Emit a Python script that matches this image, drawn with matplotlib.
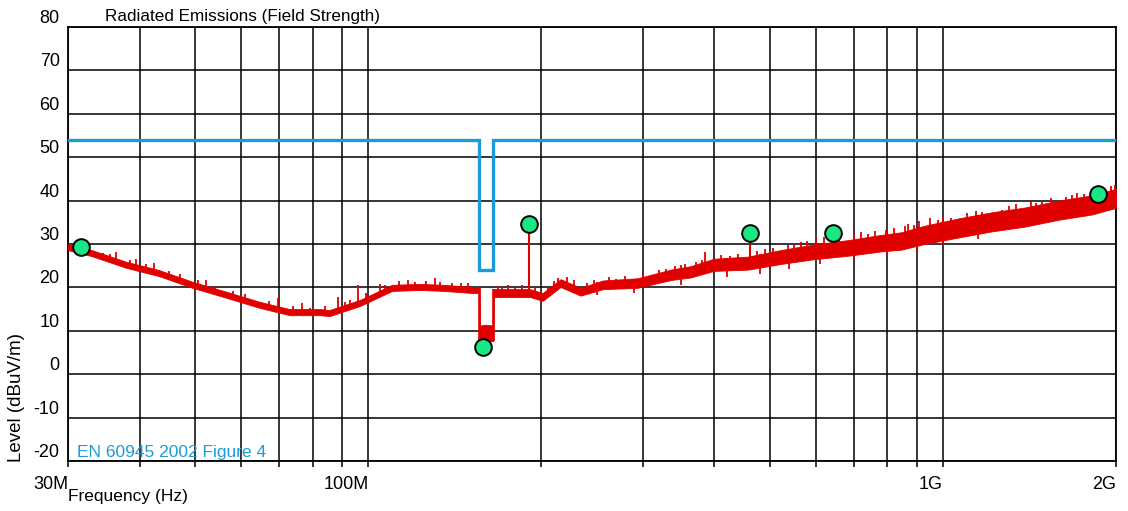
import matplotlib
matplotlib.use("Agg")
import matplotlib.pyplot as plt
import numpy as np
from matplotlib.ticker import FixedLocator, NullFormatter

plt.rcParams['font.family'] = ['Liberation Sans', 'DejaVu Sans']

# ---- data (frequencies in MHz, levels in dBuV/m) ----
trace_freq = [30, 33, 37.9, 43.2, 49.4, 56.6, 64.6, 72.9, 82.3, 85.6, 96.6, 110, 123, 135, 152, 155.9,
              156.1, 160, 164.9, 165.1, 191, 201, 216, 234, 256, 294, 336, 364, 399, 458, 522, 596,
              684, 781, 846, 928, 1064, 1215, 1387, 1591, 1816, 1944, 2000]
trace_lo = [28.6, 27.2, 24.5, 22.6, 19.9, 17.6, 15.3, 13.6, 13.6, 13.4, 15.7, 19.2, 19.4, 19.2, 18.7, 18.7,
            7.6, 7.8, 7.6, 17.8, 17.8, 16.9, 20.1, 18.1, 19.6, 19.9, 21.7, 22.3, 23.8, 24.1, 25.4, 26.5,
            27.3, 28.3, 28.7, 30.0, 31.5, 32.9, 34.0, 35.6, 36.8, 37.9, 38.3]
trace_hi = [30.0, 28.6, 25.9, 24.0, 21.3, 19.0, 16.7, 15.0, 15.0, 14.8, 17.1, 20.6, 20.8, 20.6, 20.1, 20.1,
            11.2, 11.4, 11.2, 19.6, 19.6, 18.7, 21.9, 19.9, 21.6, 22.1, 24.1, 24.9, 26.6, 27.1, 28.6, 29.9,
            30.9, 32.1, 32.7, 34.2, 35.9, 37.3, 38.4, 40.0, 41.2, 42.3, 42.7]

spike_freq = [31, 34.5, 35.5, 36.4, 38.5, 39.4, 41, 42.4, 45, 47, 50.5, 52.2, 54, 58, 61, 67, 69.5, 74,
              76.5, 79, 84, 88.4, 91, 93, 95.8, 99, 104.7, 107, 113, 117, 120.5, 126, 130.6, 133, 140,
              145, 149, 168, 171, 175, 180, 185, 195, 205, 210, 214, 222, 228, 240, 247, 262, 270, 280,
              300, 312, 320, 330, 342, 349.5, 356, 372, 380, 386, 410, 425, 440, 475, 490, 505, 537,
              550, 565, 580, 601, 620, 640, 660, 700, 720, 740, 760, 797, 820, 860, 870, 891, 910, 950,
              980, 1000, 1034, 1100, 1140, 1170, 1265, 1300, 1340, 1420, 1450, 1485, 1540, 1640, 1680,
              1709, 1760, 1900, 1960, 1991]
spike_peak = [30.0, 28.0, 27.6, 28.1, 26.3, 26.5, 25.3, 25.6, 23.8, 23.0, 21.6, 21.7, 20.3, 19.2, 18.4,
              16.8, 17.6, 15.6, 16.4, 15.3, 15.6, 17.8, 16.6, 17.2, 20.5, 18.8, 20.8, 20.6, 21.4, 21.6,
              21.3, 21.5, 22.2, 21.3, 21.0, 21.1, 20.9, 20.3, 20.1, 20.5, 20.2, 20.6, 20.0, 19.8, 21.5,
              22.2, 22.3, 21.6, 21.0, 21.8, 22.3, 22.0, 22.6, 23.0, 22.9, 24.0, 24.3, 25.0, 25.2, 25.3,
              25.9, 26.2, 28.2, 27.4, 27.3, 27.6, 28.3, 28.8, 29.0, 29.8, 30.0, 30.4, 30.8, 31.6, 31.5,
              31.4, 32.0, 32.5, 32.8, 32.4, 33.0, 33.2, 33.8, 34.2, 34.5, 34.4, 35.2, 36.0, 35.6, 36.2,
              36.0, 37.1, 37.6, 37.4, 37.8, 38.8, 39.2, 39.6, 39.4, 39.7, 40.6, 40.8, 41.3, 41.8, 41.6,
              42.8, 43.3, 43.6]

dip_freq = [250, 290, 350, 420, 480, 540, 610, 700, 800, 900, 1000, 1150]
dip_level = [18.3, 18.8, 20.5, 22.3, 23.0, 24.3, 25.3, 26.3, 27.3, 28.5, 29.6, 31.2]

marker_freq = [31.6, 158.3, 190.5, 461, 644, 1860]
marker_level = [29.3, 6.3, 34.6, 32.5, 32.5, 41.5]
stem_base = [29.3, 8.5, 18.7, 26.0, 32.5, 41.5]

limit_freq = [30, 156, 156, 165, 165, 2000]
limit_level = [54, 54, 24, 24, 54, 54]

xtick_vals = [30, 100, 1000, 2000]
xtick_labels = ['30M', '100M', '1G', '2G']
ytick_vals = [-20, -10, 0, 10, 20, 30, 40, 50, 60, 70, 80]

RED = '#E00000'
BLUE = '#1E9BD7'
GREEN = '#18E884'

fig = plt.figure(figsize=(11.28, 5.11), dpi=100)
ax = fig.add_axes([68 / 1128, 50 / 511, (1116 - 68) / 1128, (461 - 27) / 511])
ax.set_xscale('log')
ax.set_xlim(30, 2000)
ax.set_ylim(-20, 80)

# grid
ax.xaxis.set_major_locator(FixedLocator(xtick_vals))
ax.xaxis.set_minor_locator(FixedLocator([40, 50, 60, 70, 80, 90, 200, 300, 400, 500, 600, 700, 800, 900]))
ax.xaxis.set_minor_formatter(NullFormatter())
ax.set_xticklabels(xtick_labels)
ax.set_yticks(ytick_vals)
ax.set_yticklabels([str(v) for v in ytick_vals])
ax.grid(which='both', color='black', linewidth=1.1, zorder=1)
ax.set_axisbelow(True)
for s in ax.spines.values():
    s.set_linewidth(1.3)
    s.set_color('black')

ax.tick_params(axis='x', which='both', direction='out', length=4, width=1.1, pad=7, labelsize=13)
ax.tick_params(axis='y', which='both', length=0, pad=6, labelsize=13)
for lab in ax.get_xticklabels():
    lab.set_horizontalalignment('right')
for lab in ax.get_yticklabels():
    lab.set_verticalalignment('bottom')

# limit
ax.plot(limit_freq, limit_level, color=BLUE, linewidth=2.4, zorder=3, solid_joinstyle='miter')

# trace band
ax.fill_between(trace_freq, trace_lo, trace_hi, color=RED, linewidth=0.6, edgecolor=RED, zorder=4)
ax.vlines(trace_freq[15:17], [trace_lo[16]] * 2, [trace_hi[15]] * 2, color=RED, linewidth=1.2, zorder=4)
ax.vlines(trace_freq[18:20], [trace_lo[18]] * 2, [trace_hi[19]] * 2, color=RED, linewidth=1.2, zorder=4)
# spikes and dips
lf = np.log10(trace_freq)
base = np.interp(np.log10(spike_freq), lf, trace_lo)
ax.vlines(spike_freq, base, spike_peak, color=RED, linewidth=1.3, zorder=4)
top = np.interp(np.log10(dip_freq), lf, trace_hi)
ax.vlines(dip_freq, dip_level, top, color=RED, linewidth=1.3, zorder=4)
# stems + markers
ax.vlines(marker_freq, stem_base, marker_level, color=RED, linewidth=1.5, zorder=5)
ax.plot(marker_freq, marker_level, 'o', markersize=12, markerfacecolor=GREEN,
        markeredgecolor='black', markeredgewidth=1.4, linestyle='none', zorder=6)

# texts
fig.text(105 / 1128, 1 - 17 / 511, 'Radiated Emissions (Field Strength)', fontsize=12.3,
         ha='left', va='center')
fig.text(77 / 1128, 1 - 452 / 511, 'EN 60945 2002 Figure 4', fontsize=12.5, color=BLUE,
         ha='left', va='center')
fig.text(68 / 1128, 1 - 496 / 511, 'Frequency (Hz)', fontsize=12.5, ha='left', va='center')
fig.text(17 / 1128, 1 - 462 / 511, 'Level (dBuV/m)', fontsize=13.5, rotation=90,
         ha='center', va='bottom')

fig.savefig('out.png', dpi=100)
